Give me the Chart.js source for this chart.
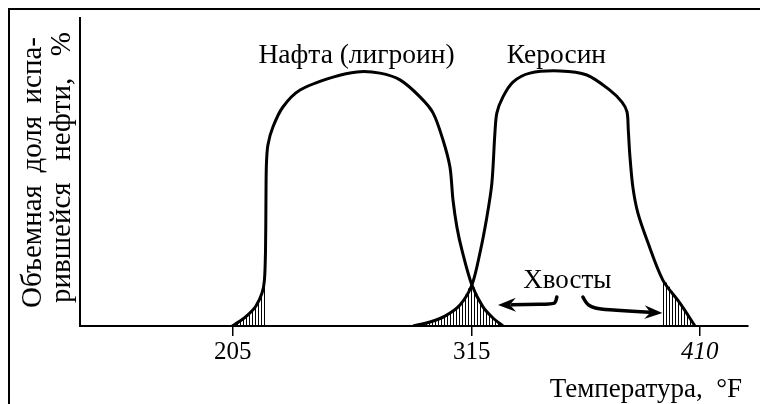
<!DOCTYPE html>
<html><head><meta charset="utf-8">
<script src="https://cdn.jsdelivr.net/npm/chart.js@4/dist/chart.umd.min.js"></script>
<style>html,body{margin:0;padding:0;background:#fff}#wrap{width:760px;height:404px}</style>
</head><body><div id="wrap"><canvas id="c" width="760" height="404"></canvas></div>
<script>
// ---- data (x in °F-like schematic units, y in % of max) ----
const naphthaTemp = [204.7, 208.4, 212.0, 215.7, 218.5, 219.6, 220.1, 220.3, 220.5, 221.2, 223.5, 228.1, 236.0, 251.2, 262.2, 272.8, 282.0, 291.2, 297.2, 301.8, 305.0, 306.4, 308.2, 310.5, 315.1, 320.2, 324.8, 329.4];
const naphthaPct  = [0,     1.6,   3.6,   6.5,   10.7,  14.9,  24.7,  40.9,  52.3,  58.8,  64.6,  71.1,  76.6,  80.8,  82.5,  82.1,  79.9,  74.4,  69.2,  60.4,  51.6,  40.9,  32.1,  24.7,  13.3,  6.2,   2.6,   0];
const keroseneTemp = [288.0, 295.8, 302.7, 309.6, 315.1, 318.8, 322.0, 324.3, 325.7, 326.6, 329.4, 334.0, 341.8, 355.6, 368.0, 378.6, 384.2, 386.5, 387.1, 387.8, 389.2, 391.5, 395.7, 403.0, 410.8, 417.8];
const kerosenePct  = [0,     1.3,   3.2,   6.8,   13.3,  23.7,  35.4,  46.4,  62.7,  69.2,  74.4,  79.2,  82.1,  82.8,  81.5,  76.6,  72.7,  69.5,  63.6,  55.5,  45.1,  36.7,  27.9,  14.9,  7.5,   0];
const tickPositions = [205, 315, 420];
const tickLabels = ['205', '315', '410'];
const curveLabels = ['Нафта (лигроин)', 'Керосин'];
const tailsLabel = 'Хвосты';
const yTitleLines = ['Объемная доля испа-', 'рившейся нефти, %'];
const xTitle = 'Температура,  °F';
// x limits of the hatched tails
const tail1Range = [204, 220.1];
const tail2KeroRange = [288, 315.1];
const tail2NaphRange = [315.2, 330];
const tail3Range = [403, 418];
// arrow paths (data units)
const leftArrowX = [354.2, 353.8, 352.4, 340.0, 327.1];
const leftArrowY = [9.4, 7.8, 7.1, 7.0, 6.8];
const rightArrowX = [366.2, 367.6, 369.9, 374.0, 383.2, 394.7, 402.8];
const rightArrowY = [9.4, 7.5, 6.2, 5.5, 5.0, 4.5, 4.2];

const FONT = "'Liberation Serif', 'Times New Roman', serif";

function pts(xs, ys) { return xs.map((x, i) => ({x, y: ys[i]})); }
function slice(xs, ys, lo, hi) { return pts(xs, ys).filter(p => p.x >= lo && p.x <= hi); }

function hatch() {
  const c = document.createElement('canvas'); c.width = 3; c.height = 4;
  const g = c.getContext('2d'); g.fillStyle = '#000'; g.fillRect(0, 0, 1, 4);
  return g.createPattern(c, 'repeat');
}
const pat = hatch();

const tailStyle = {showLine: true, fill: 'origin', backgroundColor: pat, borderWidth: 0, borderColor: 'rgba(0,0,0,0)', pointRadius: 0, tension: 0.3};
const curveStyle = {showLine: true, fill: false, borderColor: '#000', borderWidth: 3, pointRadius: 0, tension: 0.3};

const datasets = [
  Object.assign({data: slice(naphthaTemp, naphthaPct, tail1Range[0], tail1Range[1]).concat([{x: tail1Range[1], y: 0}])}, tailStyle),
  Object.assign({data: slice(keroseneTemp, kerosenePct, tail2KeroRange[0], tail2KeroRange[1]).concat(slice(naphthaTemp, naphthaPct, tail2NaphRange[0], tail2NaphRange[1]))}, tailStyle),
  Object.assign({data: [{x: tail3Range[0], y: 0}].concat(slice(keroseneTemp, kerosenePct, tail3Range[0], tail3Range[1]))}, tailStyle),
  Object.assign({label: curveLabels[0], data: pts(naphthaTemp, naphthaPct)}, curveStyle),
  Object.assign({label: curveLabels[1], data: pts(keroseneTemp, kerosenePct)}, curveStyle),
];

const decor = {
  id: 'decor',
  afterDatasetsDraw(chart) {
    const {ctx, chartArea: a, scales: {x, y}} = chart;
    ctx.save();
    ctx.fillStyle = '#000'; ctx.strokeStyle = '#000';
    // frame
    ctx.lineWidth = 2;
    ctx.beginPath(); ctx.moveTo(9, chart.height); ctx.lineTo(9, 9); ctx.lineTo(chart.width, 9); ctx.stroke();
    // curve labels
    ctx.textAlign = 'center'; ctx.textBaseline = 'alphabetic';
    ctx.font = '27.5px ' + FONT;
    ctx.fillText(curveLabels[0], x.getPixelForValue(262), y.getPixelForValue(85.5));
    ctx.fillText(curveLabels[1], x.getPixelForValue(354), y.getPixelForValue(85.5));
    ctx.font = '27px ' + FONT;
    ctx.fillText(tailsLabel, x.getPixelForValue(359), y.getPixelForValue(12.5));
    // arrows
    function arrow(xs, ys) {
      const p = xs.map((v, i) => [x.getPixelForValue(v), y.getPixelForValue(ys[i])]);
      const n = p.length;
      const tip = p[n - 1], prev = p[n - 2];
      const ang = Math.atan2(tip[1] - prev[1], tip[0] - prev[0]);
      const L = 18, W = 7;
      const c = Math.cos(ang), s = Math.sin(ang);
      const bx = tip[0] - c * (L - 4), by = tip[1] - s * (L - 4);
      ctx.lineWidth = 3.5; ctx.lineCap = 'round'; ctx.lineJoin = 'round';
      ctx.beginPath(); ctx.moveTo(p[0][0], p[0][1]);
      for (let i = 1; i < n - 1; i++) {
        const mx = (p[i][0] + p[i + 1][0]) / 2, my = (p[i][1] + p[i + 1][1]) / 2;
        ctx.quadraticCurveTo(p[i][0], p[i][1], mx, my);
      }
      ctx.lineTo(bx, by); ctx.stroke();
      ctx.beginPath();
      ctx.moveTo(tip[0], tip[1]);
      ctx.lineTo(tip[0] - c * L - s * W, tip[1] - s * L + c * W);
      ctx.lineTo(tip[0] - c * (L - 6), tip[1] - s * (L - 6));
      ctx.lineTo(tip[0] - c * L + s * W, tip[1] - s * L - c * W);
      ctx.closePath(); ctx.fill();
    }
    arrow(leftArrowX, leftArrowY);
    arrow(rightArrowX, rightArrowY);
    // y title: two rotated, justified lines
    ctx.font = '29px ' + FONT; ctx.textAlign = 'left'; ctx.textBaseline = 'middle';
    const yCenters = [a.left - 47, a.left - 18];
    const yStarts = [a.bottom - 18, a.bottom - 23];
    const lineLen = 271;
    yTitleLines.forEach((t, i) => {
      const words = t.split(' ');
      const widths = words.map(w => ctx.measureText(w).width);
      const total = widths.reduce((s, v) => s + v, 0);
      const gap = Math.max(ctx.measureText(' ').width, (lineLen - total) / (words.length - 1));
      ctx.save(); ctx.translate(yCenters[i], yStarts[i]); ctx.rotate(-Math.PI / 2);
      let pos = 0;
      words.forEach((w, k) => { ctx.fillText(w, pos, 0); pos += widths[k] + gap; });
      ctx.restore();
    });
    // x title
    ctx.font = '27px ' + FONT;
    ctx.textAlign = 'right'; ctx.textBaseline = 'alphabetic';
    ctx.fillText(xTitle, a.right - 6, chart.height - 7);
    ctx.restore();
  }
};

new Chart(document.getElementById('c'), {
  type: 'scatter',
  data: {datasets},
  options: {
    responsive: false, animation: false, devicePixelRatio: 1,
    layout: {padding: {left: 80, top: 18, right: 12, bottom: 0}},
    plugins: {legend: {display: false}, tooltip: {enabled: false}},
    scales: {
      x: {
        type: 'linear', min: 134.7, max: 442.2,
        afterBuildTicks: s => { s.ticks = tickPositions.map(v => ({value: v})); },
        afterFit: s => { s.height = 78; },
        ticks: {
          callback: (v, i) => tickLabels[i],
          color: '#000', padding: 1, maxRotation: 0, autoSkip: false,
          font: ctx => ({family: FONT, size: 25, style: ctx.index === 2 ? 'italic' : 'normal'})
        },
        grid: {drawOnChartArea: false, tickLength: 10, color: '#000', lineWidth: 1.5},
        border: {display: true, color: '#000', width: 2}
      },
      y: {
        min: 0, max: 100,
        afterFit: s => { s.width = 0; },
        ticks: {display: false},
        grid: {display: false},
        border: {display: true, color: '#000', width: 2}
      }
    }
  },
  plugins: [decor]
});
</script></body></html>
